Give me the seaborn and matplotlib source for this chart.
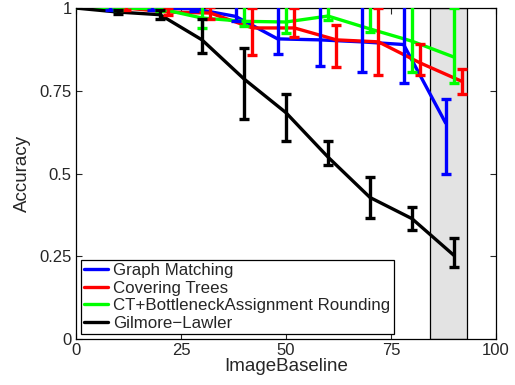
import numpy as np
import pandas as pd
import matplotlib
matplotlib.use("Agg")
import matplotlib.pyplot as plt
import seaborn as sns

series_names = ["Graph Matching", "Covering Trees",
                "CT+BottleneckAssignment Rounding", "Gilmore\u2212Lawler"]
colors = ["#0000ff", "#ff0000", "#00ff00", "#000000"]

x_gm = [0, 8, 18, 28, 38, 48, 58, 68, 78, 88]
y_gm = [1.0, 1.0, 1.0, 0.998, 0.975, 0.907, 0.904, 0.898, 0.89, 0.653]
lo_gm = [1.0, 0.995, 0.995, 0.99, 0.96, 0.86, 0.825, 0.807, 0.774, 0.50]
hi_gm = [1.0, 1.02, 1.02, 1.02, 1.02, 1.02, 1.02, 1.02, 1.02, 0.726]

x_ct = [0, 12, 22, 32, 42, 52, 62, 72, 82, 92]
y_ct = [1.0, 1.0, 0.988, 0.985, 0.94, 0.94, 0.904, 0.898, 0.834, 0.778]
lo_ct = [1.0, 0.995, 0.978, 0.967, 0.858, 0.913, 0.822, 0.799, 0.798, 0.741]
hi_ct = [1.0, 1.005, 1.0, 1.002, 1.0, 1.0, 0.95, 1.0, 0.892, 0.815]

x_ba = [0, 10, 20, 30, 40, 50, 60, 70, 80, 90]
y_ba = [1.0, 1.0, 0.998, 0.97, 0.96, 0.958, 0.976, 0.937, 0.90, 0.852]
lo_ba = [1.0, 0.995, 0.99, 0.94, 0.945, 0.925, 0.965, 0.928, 0.807, 0.774]
hi_ba = [1.0, 1.02, 1.02, 1.02, 1.02, 1.02, 1.02, 1.02, 1.02, 1.0]

x_gl = [0, 10, 20, 30, 40, 50, 60, 70, 80, 90]
y_gl = [1.0, 0.988, 0.98, 0.904, 0.786, 0.684, 0.55, 0.428, 0.364, 0.253]
lo_gl = [1.0, 0.981, 0.967, 0.864, 0.666, 0.60, 0.525, 0.367, 0.33, 0.217]
hi_gl = [1.0, 0.994, 0.994, 0.967, 0.88, 0.74, 0.60, 0.49, 0.40, 0.307]

shade_range = [84.2, 93.0]
x_ticks = [0, 25, 50, 75, 100]
y_ticks = [0, 0.25, 0.5, 0.75, 1]
y_ticklabels = ["0", "0.25", "0.5", "0.75", "1"]

xs = [x_gm, x_ct, x_ba, x_gl]
ys = [y_gm, y_ct, y_ba, y_gl]
los = [lo_gm, lo_ct, lo_ba, lo_gl]
his = [hi_gm, hi_ct, hi_ba, hi_gl]

rows = []
for name, xv, yv, lv, hv in zip(series_names, xs, ys, los, his):
    for a, b, l, h in zip(xv, yv, lv, hv):
        rows.append({"x": a, "y": b, "lo": l, "hi": h, "method": name})
df = pd.DataFrame(rows)

sns.set_style("ticks")
plt.rcParams["font.family"] = ["Liberation Sans", "DejaVu Sans"]
plt.rcParams["xtick.direction"] = "in"
plt.rcParams["ytick.direction"] = "in"

fig = plt.figure(figsize=(5.15, 3.85), dpi=100)
ax = fig.add_axes([0.1476, 0.119, 0.8155, 0.86])

ax.axvspan(shade_range[0], shade_range[1], facecolor="#e3e3e3",
           edgecolor="black", linewidth=0.9, zorder=0)

palette = dict(zip(series_names, colors))
sns.lineplot(data=df, x="x", y="y", hue="method", hue_order=series_names,
             palette=palette, linewidth=2.4, errorbar=None, sort=True,
             estimator=None, ax=ax, zorder=3)

for name in series_names:
    sub = df[(df["method"] == name) & (df["x"] > 0)]
    err = np.vstack([sub["y"] - sub["lo"], sub["hi"] - sub["y"]])
    ax.errorbar(sub["x"], sub["y"], yerr=err, fmt="none",
                ecolor=palette[name], elinewidth=2.4, capsize=3.5,
                capthick=2.4, zorder=4)

ax.set_xlim(0, 100)
ax.set_ylim(0, 1)
ax.set_xticks(x_ticks)
ax.set_yticks(y_ticks)
ax.set_yticklabels(y_ticklabels)
ax.tick_params(axis="both", which="both", top=True, right=True,
               labelsize=12, length=4, width=0.8, pad=3)
for sp in ax.spines.values():
    sp.set_visible(True)
    sp.set_linewidth(0.9)
    sp.set_color("black")

ax.set_xlabel("ImageBaseline", fontsize=13.5, labelpad=0)
ax.set_ylabel("Accuracy", fontsize=13.5, labelpad=6)

leg = ax.legend(loc="lower left", fontsize=12.2, frameon=True, fancybox=False,
                edgecolor="black", framealpha=1, handlelength=1.4,
                handletextpad=0.3, labelspacing=0.15, borderpad=0.2,
                borderaxespad=0.3)
leg.get_frame().set_linewidth(0.9)
for line in leg.get_lines():
    line.set_linewidth(2.4)

fig.savefig("out.png", dpi=100)
